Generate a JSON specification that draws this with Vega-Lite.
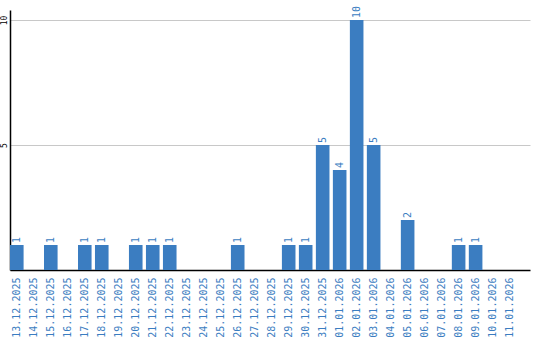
{
  "$schema": "https://vega.github.io/schema/vega-lite/v6.json",
  "autosize": {"type": "none"},
  "width": 520,
  "height": 260,
  "padding": {"left": 10, "top": 10, "right": 10, "bottom": 70},
  "background": "white",
  "config": {"view": {"stroke": null}},
  "data": {"values": [
    {"date": "13.12.2025", "value": 1},
    {"date": "14.12.2025", "value": 0},
    {"date": "15.12.2025", "value": 1},
    {"date": "16.12.2025", "value": 0},
    {"date": "17.12.2025", "value": 1},
    {"date": "18.12.2025", "value": 1},
    {"date": "19.12.2025", "value": 0},
    {"date": "20.12.2025", "value": 1},
    {"date": "21.12.2025", "value": 1},
    {"date": "22.12.2025", "value": 1},
    {"date": "23.12.2025", "value": 0},
    {"date": "24.12.2025", "value": 0},
    {"date": "25.12.2025", "value": 0},
    {"date": "26.12.2025", "value": 1},
    {"date": "27.12.2025", "value": 0},
    {"date": "28.12.2025", "value": 0},
    {"date": "29.12.2025", "value": 1},
    {"date": "30.12.2025", "value": 1},
    {"date": "31.12.2025", "value": 5},
    {"date": "01.01.2026", "value": 4},
    {"date": "02.01.2026", "value": 10},
    {"date": "03.01.2026", "value": 5},
    {"date": "04.01.2026", "value": 0},
    {"date": "05.01.2026", "value": 2},
    {"date": "06.01.2026", "value": 0},
    {"date": "07.01.2026", "value": 0},
    {"date": "08.01.2026", "value": 1},
    {"date": "09.01.2026", "value": 1},
    {"date": "10.01.2026", "value": 0},
    {"date": "11.01.2026", "value": 0}
  ]},
  "encoding": {
    "x": {
      "field": "date", "type": "nominal", "sort": null,
      "scale": {"paddingInner": 0.2, "paddingOuter": 0.4, "align": 0},
      "axis": {
        "title": null, "labelAngle": -90, "labelAlign": "right", "labelBaseline": "middle",
        "labelColor": "#3b7dc1", "labelFont": "DejaVu Sans Mono", "labelFontSize": 10,
        "ticks": false, "labelPadding": 7, "domainColor": "#000000", "domainWidth": 1.5
      }
    },
    "y": {
      "field": "value", "type": "quantitative",
      "scale": {"domain": [0, 10.4], "nice": false, "zero": true},
      "axis": {
        "title": null, "values": [5, 10], "labelAngle": -90, "labelAlign": "center",
        "labelBaseline": "bottom", "labelFont": "DejaVu Sans Mono", "labelFontSize": 8,
        "labelColor": "#000000", "ticks": false, "labelPadding": 2,
        "grid": true, "gridColor": "#c8c8c8", "domainColor": "#000000", "domainWidth": 1.5
      }
    }
  },
  "layer": [
    {"mark": {"type": "bar", "color": "#3b7dc1"}},
    {
      "transform": [{"filter": "datum.value > 0"}],
      "mark": {"type": "text", "angle": -90, "align": "left", "baseline": "middle",
               "dx": 2, "font": "DejaVu Sans Mono", "fontSize": 10, "color": "#3b7dc1"},
      "encoding": {"text": {"field": "value", "type": "quantitative"}}
    }
  ]
}
